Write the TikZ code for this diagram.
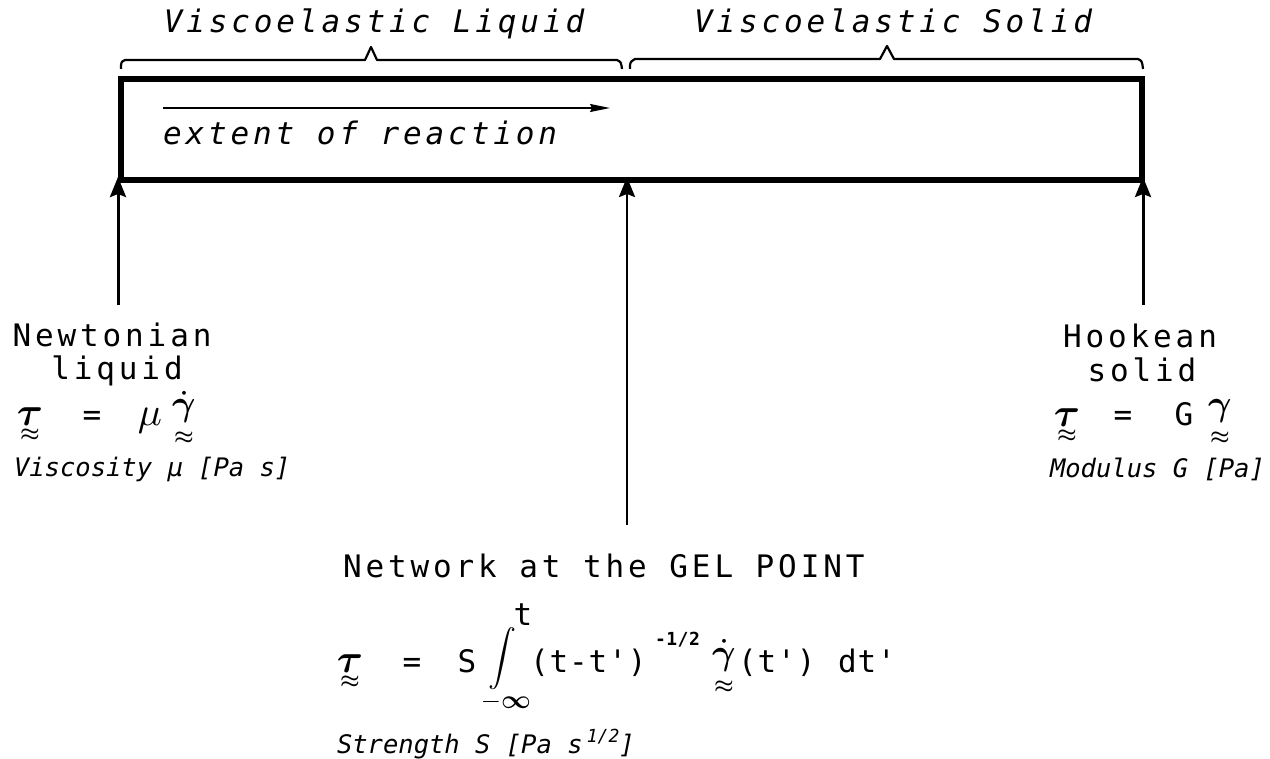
\documentclass[tikz,border=0pt]{standalone}
\usepackage{amsmath}
\usepackage{fontspec}
\usetikzlibrary{arrows.meta}
\newfontfamily\plotfont[LetterSpace=12.5]{DejaVu Sans Mono}
\newfontfamily\eqfont[LetterSpace=3]{DejaVu Sans Mono}
\newfontfamily\smallfont{DejaVu Sans Mono}
% tensor: glyph with a double tilde below it
\newcommand\tenz[2]{\setbox0\hbox{#1}\copy0\llap{\hbox to \wd0{\hss\raisebox{#2}{\scalebox{2.2}{$\boldsymbol{\approx}$}}\hss}}}
\begin{document}
\begin{tikzpicture}[x=1pt,y=-1pt,
  every node/.style={inner sep=0pt, outer sep=0pt},
  plot/.style={font=\plotfont\fontsize{31}{35}\selectfont},
  plotit/.style={font=\plotfont\itshape\fontsize{31}{35}\selectfont},
  eqtext/.style={font=\eqfont\fontsize{31}{35}\selectfont},
  tensor/.style={font=\normalsize},
  smallit/.style={font=\smallfont\itshape\fontsize{25.5}{29}\selectfont},
  bar/.style={draw, line width=6pt},
  bracepath/.style={line width=2.2pt, line join=round},
  up/.style={line width=3pt, -{Stealth[length=20pt,width=16pt,inset=3pt]}},
  upthin/.style={line width=2.4pt, -{Stealth[length=20pt,width=16pt,inset=3pt]}},
  thinarrow/.style={line width=1.5pt, -{Stealth[length=20pt,width=8pt,inset=2pt]}}]
\useasboundingbox[fill=white] (0,0) rectangle (1270,759);

% main bar
\node (box) [bar, minimum width=1021pt, minimum height=101pt] at (631.5,129.5) {};

% braces and titles
\node[plotit, anchor=base] (vl) at (374,33) {Viscoelastic Liquid};
\node[plotit, anchor=base] (vs) at (893,33) {Viscoelastic Solid};
\coordinate (bl1) at (121,69); \coordinate (bl2) at (622,69);
\coordinate (br1) at (630,69); \coordinate (br2) at (1143,69);
\draw[bracepath] (bl1) .. controls (121,62) .. (125,60) -- (365,60) -- (371,47) -- (377,60) -- (617,60) .. controls (621,62) .. (bl2);
\draw[bracepath] (br1) .. controls (630,62) .. (635,59) -- (880,59) -- (887,46) -- (894,59) -- (1138,59) .. controls (1142,61) .. (br2);

% extent of reaction
\coordinate (e1) at (163,108);
\coordinate (e2) at (610,108);
\draw[thinarrow] (e1) -- (e2);
\node[plotit, anchor=base west] (ext) at (163,145) {extent of reaction};

% arrows from below
\coordinate (al) at (118,305);
\coordinate (am) at (627,525);
\coordinate (ar) at (1143,305);
\draw[up, shorten >=-3pt] (al) -- (al |- box.south);
\draw[upthin, shorten >=-3pt] (am) -- (am |- box.south);
\draw[up, shorten >=-3pt] (ar) -- (ar |- box.south);

% Newtonian liquid
\node[plot, anchor=base] (newt) at (112,347) {Newtonian};
\node[plot, anchor=base] (liq) at (117,380) {liquid};
\node[tensor, anchor=base] (nt) at (30,426) {\tenz{\scalebox{4}{$\boldsymbol{\tau}$}}{-15pt}};
\node[eqtext, anchor=base] (neq) at (92,425) {=};
\node[tensor, anchor=base] (nmu) at (150,426) {\scalebox{4}{$\mu$}};
\node[tensor, anchor=base] (ng) at (184,416) {\tenz{\scalebox{3.6}{$\dot{\boldsymbol{\gamma}}$}}{-28pt}};
\node[smallit, anchor=base west] (visc) at (14,476) {Viscosity μ [Pa s]};

% Hookean solid
\node[plot, anchor=base] (hook) at (1140,348) {Hookean};
\node[plot, anchor=base] (sol) at (1142,382) {solid};
\node[tensor, anchor=base] (ht) at (1067,427) {\tenz{\scalebox{4}{$\boldsymbol{\tau}$}}{-15pt}};
\node[eqtext, anchor=base] (heq) at (1123,425) {=};
\node[eqtext, anchor=base] (hg) at (1184,425) {G};
\node[tensor, anchor=base] (hgam) at (1220,416) {\tenz{\scalebox{3.6}{$\boldsymbol{\gamma}$}}{-28pt}};
\node[smallit, anchor=base west] (mod) at (1050,477) {Modulus G [Pa]};

% Gel point
\node[plot, anchor=base west] (net) at (343,577) {Network at the GEL POINT};
\node[tensor, anchor=base] (gt) at (350,672) {\tenz{\scalebox{4}{$\boldsymbol{\tau}$}}{-15pt}};
\node[eqtext, anchor=base] (geq) at (412,672) {=};
\node[eqtext, anchor=base] (gs) at (467,672) {S};
\node[tensor] (gint) at (502,659) {\scalebox{2.8}{$\displaystyle\int$}};
\node[eqtext, anchor=base] (gup) at (523,625) {t};
\node[tensor, anchor=base] (glow) at (506,708) {\scalebox{2.6}{$-\boldsymbol{\infty}$}};
\node[eqtext, anchor=base west] (gpar) at (530,672) {(t-t')};
\node[font=\eqfont\bfseries\fontsize{18}{20}\selectfont, anchor=base west] (gexp) at (655,645) {-1/2};
\node[tensor, anchor=base] (ggam) at (724,664) {\tenz{\scalebox{3.6}{$\dot{\boldsymbol{\gamma}}$}}{-28pt}};
\node[eqtext, anchor=base west] (gpar2) at (738,672) {(t')};
\node[eqtext, anchor=base west] (gdt) at (838,672) {dt'};
\node[smallit, anchor=base west] (str) at (337,753) {Strength S [Pa s\,\raisebox{11pt}{\fontsize{18}{20}\selectfont 1/2}]};
\end{tikzpicture}
\end{document}
